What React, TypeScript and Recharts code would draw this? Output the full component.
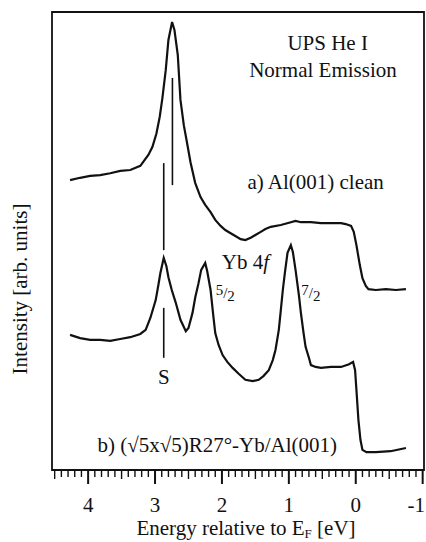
import React from 'react';
import {
  ComposedChart,
  Line,
  XAxis,
  YAxis,
  ReferenceArea,
  ReferenceLine,
  ReferenceDot
} from 'recharts';

// a) Al(001) clean  -- energy [eV] / intensity [arb. units]
const energyA = [
  4.27, 4.12, 3.97, 3.82, 3.67, 3.52, 3.37, 3.22, 3.10, 3.04, 2.98, 2.93, 2.89, 2.84, 2.80, 2.745,
  2.71, 2.66, 2.62, 2.57, 2.53, 2.47, 2.40, 2.32, 2.25, 2.17, 2.10, 2.02, 1.95, 1.87, 1.80, 1.72,
  1.65, 1.57, 1.50, 1.42, 1.35, 1.27, 1.12, 0.97, 0.90, 0.82, 0.67, 0.52, 0.37, 0.22, 0.15, 0.07,
  0.03, -0.01, -0.06, -0.10, -0.15, -0.19, -0.30, -0.45, -0.60, -0.75
];
const intensityA = [
  63.3, 63.8, 64.2, 64.4, 64.8, 65.3, 65.5, 66.4, 68.8, 70.5, 73.4, 77.1, 81.2, 87.3, 93.9, 97.8,
  96.1, 90.6, 80.8, 75.3, 72.1, 67.2, 62.7, 59.6, 57.9, 56.3, 54.6, 53.3, 52.4, 51.7, 51.1, 50.4,
  50.2, 50.7, 51.3, 52.0, 52.6, 53.1, 53.5, 54.1, 54.4, 54.1, 54.1, 53.9, 53.9, 53.9, 53.7, 53.3,
  52.0, 49.1, 44.8, 41.9, 40.2, 39.5, 39.3, 39.5, 39.3, 39.5
];

// b) (√5x√5)R27°-Yb/Al(001)
const energyB = [
  4.27, 4.12, 3.97, 3.82, 3.67, 3.52, 3.37, 3.22, 3.14, 3.07, 2.99, 2.95, 2.92, 2.87, 2.83, 2.80,
  2.75, 2.69, 2.62, 2.54, 2.50, 2.44, 2.40, 2.35, 2.31, 2.25, 2.22, 2.17, 2.13, 2.10, 2.05, 1.99,
  1.92, 1.84, 1.75, 1.65, 1.54, 1.45, 1.38, 1.30, 1.24, 1.20, 1.15, 1.12, 1.09, 1.06, 1.02, 0.97,
  0.94, 0.90, 0.85, 0.82, 0.78, 0.75, 0.70, 0.67, 0.60, 0.52, 0.37, 0.22, 0.10, 0.04, 0.01, -0.01,
  -0.04, -0.07, -0.10, -0.16, -0.30, -0.52, -0.75
];
const intensityB = [
  29.5, 28.8, 28.4, 28.4, 28.2, 28.6, 29.0, 29.7, 30.6, 33.2, 37.1, 40.4, 43.0, 46.3, 44.5, 42.1,
  39.3, 36.5, 32.8, 30.3, 31.0, 34.3, 37.6, 40.8, 43.7, 45.2, 43.4, 39.3, 33.8, 29.9, 27.3, 25.1,
  23.6, 22.3, 21.0, 19.7, 19.4, 19.7, 20.5, 21.8, 24.0, 26.2, 30.6, 34.9, 39.3, 43.0, 47.4, 49.1,
  47.6, 43.7, 38.2, 34.3, 29.9, 26.9, 24.5, 22.9, 22.5, 22.3, 22.5, 22.5, 23.1, 23.6, 21.8, 17.5,
  10.9, 6.6, 4.4, 3.9, 3.9, 4.1, 4.8
];

// vertical marker bars
const markerEnergy = [2.74, 2.87, 2.87];
const markerFrom = [62.2, 48.0, 24.5];
const markerTo = [85.6, 67.0, 35.4];

const SERIF = 'Liberation Serif, Times New Roman, DejaVu Serif, serif';
const INK = '#111';
const CHART_W = 426;

const spectrumA = energyA.map((e, i) => ({ e, v: intensityA[i] }));
const spectrumB = energyB.map((e, i) => ({ e, v: intensityB[i] }));

const energyTicks: number[] = [];
for (let i = -10; i <= 45; i++) energyTicks.push(i / 10);

const EnergyTick = (props: any) => {
  const { x, y, payload } = props;
  const v = payload.value;
  const major = Math.abs(v - Math.round(v)) < 1e-6;
  const half = !major && Math.abs(v * 2 - Math.round(v * 2)) < 1e-6;
  const len = major ? 14 : half ? 9 : 7;
  // keep the last label ("-1") inside the picture
  const nearEdge = x + 9 > CHART_W;
  return (
    <g>
      <line x1={x} x2={x} y1={y} y2={y + len} stroke={INK} strokeWidth={major ? 2 : 1.4} />
      {major && (
        <text
          x={nearEdge ? CHART_W - 1 : x}
          y={y + 42}
          textAnchor={nearEdge ? 'end' : 'middle'}
          style={{ fontFamily: SERIF }}
          fontSize={21}
          fill={INK}
        >
          {String(Math.round(v))}
        </text>
      )}
    </g>
  );
};

const note = (content: React.ReactNode, anchor: 'start' | 'middle' = 'middle', size = 21) =>
  (p: any) => (
    <text
      x={p.cx}
      y={p.cy}
      textAnchor={anchor}
      dominantBaseline="central"
      style={{ fontFamily: SERIF }}
      fontSize={size}
      fill={INK}
    >
      {content}
    </text>
  );

const fraction = (top: string, bottom: string) => (
  <>
    <tspan dy={-3}>{top}</tspan>
    <tspan dy={3}>/</tspan>
    <tspan dy={3}>{bottom}</tspan>
  </>
);

const App = () => {
  return (
    <div style={{ position: 'absolute', left: 0, top: 0, background: '#fff' }}>
      <ComposedChart width={CHART_W} height={542} margin={{ top: 12, right: 2, bottom: 0, left: 0 }}>
        <XAxis
          type="number"
          dataKey="e"
          domain={[-1.02, 4.54]}
          reversed
          allowDataOverflow
          ticks={energyTicks}
          interval={0}
          tick={<EnergyTick />}
          tickSize={0}
          tickMargin={0}
          axisLine={false}
          height={72}
          label={() => (
            <text x={246} y={535} textAnchor="middle" style={{ fontFamily: SERIF }} fontSize={21} fill={INK}>
              Energy relative to E<tspan fontSize={13} dy={3}>F</tspan>
              <tspan dy={-3}> [eV]</tspan>
            </text>
          )}
        />
        <YAxis
          type="number"
          domain={[0, 100]}
          allowDataOverflow
          width={52}
          tick={false}
          tickLine={false}
          axisLine={false}
          label={() => (
            <text
              x={20}
              y={289}
              transform="rotate(-90 20 289)"
              textAnchor="middle"
              dominantBaseline="central"
              style={{ fontFamily: SERIF }}
              fontSize={21}
              fill={INK}
            >
              Intensity [arb. units]
            </text>
          )}
        />

        <ReferenceArea
          x1={4.54}
          x2={-1.02}
          y1={0}
          y2={100}
          fill="none"
          stroke={INK}
          strokeWidth={1.8}
          ifOverflow="visible"
        />

        {markerEnergy.map((e, i) => (
          <ReferenceLine
            key={i}
            segment={[{ x: e, y: markerFrom[i] }, { x: e, y: markerTo[i] }]}
            stroke={INK}
            strokeWidth={1.6}
          />
        ))}

        <Line
          data={spectrumA}
          dataKey="v"
          type="linear"
          stroke={INK}
          strokeWidth={2.2}
          dot={false}
          isAnimationActive={false}
        />
        <Line
          data={spectrumB}
          dataKey="v"
          type="linear"
          stroke={INK}
          strokeWidth={2.2}
          dot={false}
          isAnimationActive={false}
        />

        <ReferenceDot x={0.42} y={93.2} r={1} shape={note('UPS He I')} />
        <ReferenceDot x={0.49} y={87.3} r={1} shape={note('Normal Emission')} />
        <ReferenceDot x={0.60} y={62.9} r={1} shape={note('a) Al(001) clean')} />
        <ReferenceDot
          x={1.65}
          y={45.4}
          r={1}
          shape={note(<>Yb 4<tspan fontStyle="italic">f</tspan></>)}
        />
        <ReferenceDot x={1.95} y={38.6} r={1} shape={note(fraction('5', '2'), 'middle', 15)} />
        <ReferenceDot x={0.67} y={38.6} r={1} shape={note(fraction('7', '2'), 'middle', 15)} />
        <ReferenceDot x={2.87} y={20.3} r={1} shape={note('S')} />
        <ReferenceDot
          x={2.07}
          y={5.5}
          r={1}
          shape={note('b) (√5x√5)R27°-Yb/Al(001)')}
        />
      </ComposedChart>
    </div>
  );
};

export default App;
